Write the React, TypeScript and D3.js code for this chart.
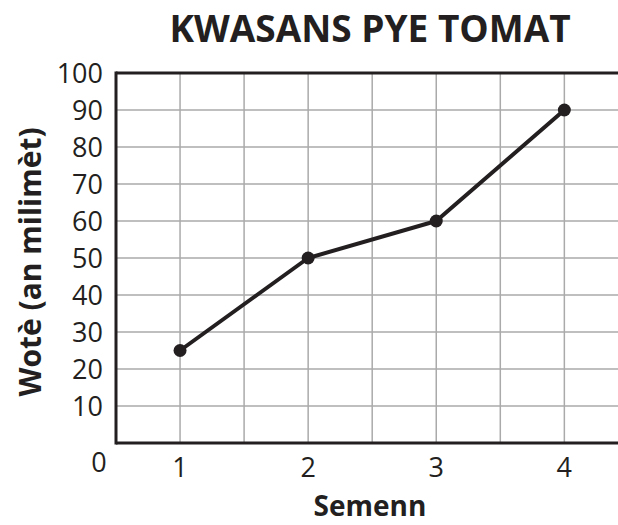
import * as d3 from 'd3';

const weeks = [1, 2, 3, 4];
const heights = [25, 50, 60, 90];
const yTicks = [10, 20, 30, 40, 50, 60, 70, 80, 90, 100];
const xTicks = [1, 2, 3, 4];
const title = 'KWASANS PYE TOMAT';
const xTitle = 'Semenn';
const yTitle = 'Wotè (an milimèt)';

const W = 618;
const H = 525;
const FONT = '"Open Sans", sans-serif';
const INK = '#231f20';

export default function App() {
  const left = 116;
  const top = 73;
  const bottom = 443;

  const x = d3.scaleLinear().domain([0.5, 4.5]).range([left, left + 4 * 128.1]);
  const y = d3.scaleLinear().domain([0, 100]).range([bottom, top]);

  // gridlines every half week
  const vGrid = d3.range(1, 9).map(i => 0.5 + i * 0.5);
  const line = d3.line<number>()
    .x((_, i) => x(weeks[i]))
    .y(d => y(d));

  return (
    <svg width={W} height={H} style={{ position: 'absolute', left: 0, top: 0, background: '#fff' }} fontFamily={FONT}>
      {vGrid.map(v => (
        <line key={'v' + v} x1={x(v)} x2={x(v)} y1={top} y2={bottom} stroke="#aaaaaa" strokeWidth={1.5} />
      ))}
      {yTicks.slice(0, -1).map(t => (
        <line key={'h' + t} x1={left} x2={W} y1={y(t)} y2={y(t)} stroke="#aaaaaa" strokeWidth={1.5} />
      ))}

      <line x1={left} x2={W} y1={top} y2={top} stroke={INK} strokeWidth={3} />
      <line x1={left} x2={W} y1={bottom} y2={bottom} stroke={INK} strokeWidth={3} />
      <line x1={left} x2={left} y1={top - 1.5} y2={bottom + 1.5} stroke={INK} strokeWidth={3} />

      <path d={line(heights) || ''} fill="none" stroke={INK} strokeWidth={4} strokeLinejoin="round" />
      {heights.map((h, i) => (
        <circle key={i} cx={x(weeks[i])} cy={y(h)} r={6.5} fill={INK} />
      ))}

      {yTicks.map(t => (
        <text key={'yl' + t} x={103} y={y(t)} dy="0.36em" textAnchor="end" fontSize={27} fill={INK}>{t}</text>
      ))}
      <text x={99} y={472} textAnchor="middle" fontSize={27} fill={INK}>0</text>

      {xTicks.map(t => (
        <text key={'xl' + t} x={x(t)} y={477} textAnchor="middle" fontSize={27} fill={INK}>{t}</text>
      ))}

      <text x={370} y={42} textAnchor="middle" fontSize={37} fontWeight="bold" fill={INK}>{title}</text>
      <text x={370} y={516} textAnchor="middle" fontSize={28} fontWeight="bold" fill={INK}>{xTitle}</text>
      <text transform="translate(41,262) rotate(-90)" textAnchor="middle" fontSize={30} fontWeight="bold" fill={INK}>{yTitle}</text>
    </svg>
  );
}
